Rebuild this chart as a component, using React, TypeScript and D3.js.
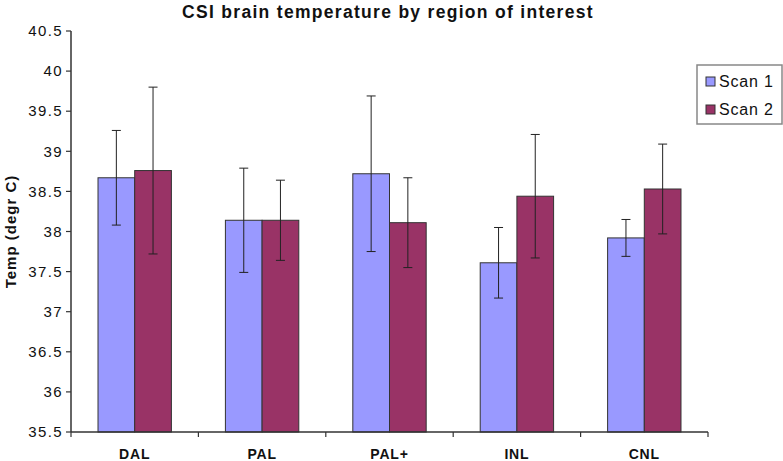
import React from "react";
import * as d3 from "d3";

const categories = ["DAL", "PAL", "PAL+", "INL", "CNL"];
const seriesNames = ["Scan 1", "Scan 2"];
const scan1 = [38.67, 38.14, 38.72, 37.61, 37.92];
const scan1Err = [0.59, 0.65, 0.97, 0.44, 0.23];
const scan2 = [38.76, 38.14, 38.11, 38.44, 38.53];
const scan2Err = [1.04, 0.5, 0.56, 0.77, 0.56];
const yTicks = [35.5, 36, 36.5, 37, 37.5, 38, 38.5, 39, 39.5, 40, 40.5];
const colors = ["#9999FF", "#993366"];

export default function App() {
  const W = 783, H = 461;
  const left = 71, right = 708, top = 31, bottom = 432;
  const x = d3.scaleBand().domain(categories).range([left, right]).paddingInner(0).paddingOuter(0);
  const y = d3.scaleLinear().domain([35.5, 40.5]).range([bottom, top]);
  const bw = x.bandwidth() * 0.288;
  const series = [
    { name: seriesNames[0], vals: scan1, err: scan1Err, color: colors[0] },
    { name: seriesNames[1], vals: scan2, err: scan2Err, color: colors[1] },
  ];
  const font = "Arial, 'Liberation Sans', sans-serif";
  return (
    <svg width={W} height={H} style={{ position: "absolute", left: 0, top: 0, background: "#fff" }} fontFamily={font}>
      <text x={388} y={18} textAnchor="middle" fontSize={17.5} fontWeight="bold" letterSpacing={1.3} fill="#111">
        CSI brain temperature by region of interest
      </text>
      {/* bars */}
      {series.map((s, si) =>
        categories.map((c, i) => {
          const cx = (x(c) as number) + x.bandwidth() / 2;
          const bx = cx - bw + si * bw;
          return (
            <rect key={s.name + c} x={bx} y={y(s.vals[i])} width={bw} height={bottom - y(s.vals[i])}
              fill={s.color} stroke="#333" strokeWidth={1} />
          );
        })
      )}
      {/* error bars */}
      {series.map((s, si) =>
        categories.map((c, i) => {
          const cx = (x(c) as number) + x.bandwidth() / 2;
          const ex = cx - bw / 2 + si * bw;
          const y1 = y(s.vals[i] + s.err[i]);
          const y2 = y(s.vals[i] - s.err[i]);
          return (
            <g key={"e" + s.name + c} stroke="#222" strokeWidth={1}>
              <line x1={ex} x2={ex} y1={y1} y2={y2} />
              <line x1={ex - 4.5} x2={ex + 4.5} y1={y1} y2={y1} />
              <line x1={ex - 4.5} x2={ex + 4.5} y1={y2} y2={y2} />
            </g>
          );
        })
      )}
      {/* y axis */}
      <line x1={left} x2={left} y1={top} y2={bottom} stroke="#333" strokeWidth={1.5} />
      {yTicks.map((t) => (
        <g key={t}>
          <line x1={left - 5} x2={left} y1={y(t)} y2={y(t)} stroke="#333" strokeWidth={1.2} />
          <text x={left - 8} y={y(t)} dy="0.35em" textAnchor="end" fontSize={15} letterSpacing={1.4} fill="#111">
            {t}
          </text>
        </g>
      ))}
      {/* x axis */}
      <line x1={left} x2={right} y1={bottom} y2={bottom} stroke="#333" strokeWidth={1.5} />
      {categories.map((c) => (
        <line key={"t" + c} x1={(x(c) as number) + x.bandwidth()} x2={(x(c) as number) + x.bandwidth()}
          y1={bottom} y2={bottom + 5} stroke="#333" strokeWidth={1.2} />
      ))}
      <line x1={left} x2={left} y1={bottom} y2={bottom + 5} stroke="#333" strokeWidth={1.2} />
      {categories.map((c) => (
        <text key={"l" + c} x={(x(c) as number) + x.bandwidth() / 2} y={459} textAnchor="middle"
          fontSize={14} fontWeight="bold" letterSpacing={0.8} fill="#111">
          {c}
        </text>
      ))}
      <text transform={`translate(16, ${(top + bottom) / 2}) rotate(-90)`} textAnchor="middle"
        fontSize={15} fontWeight="bold" letterSpacing={1} fill="#111">
        Temp (degr C)
      </text>
      {/* legend */}
      <rect x={697} y={65} width={85} height={59} fill="#fff" stroke="#888" strokeWidth={1.5} />
      {series.map((s, si) => (
        <g key={"lg" + s.name}>
          <rect x={706} y={77 + si * 28} width={9} height={9} fill={s.color} stroke="#333" strokeWidth={1} />
          <text x={719} y={87 + si * 28} fontSize={16} letterSpacing={0.8} fill="#111">
            {s.name}
          </text>
        </g>
      ))}
    </svg>
  );
}
